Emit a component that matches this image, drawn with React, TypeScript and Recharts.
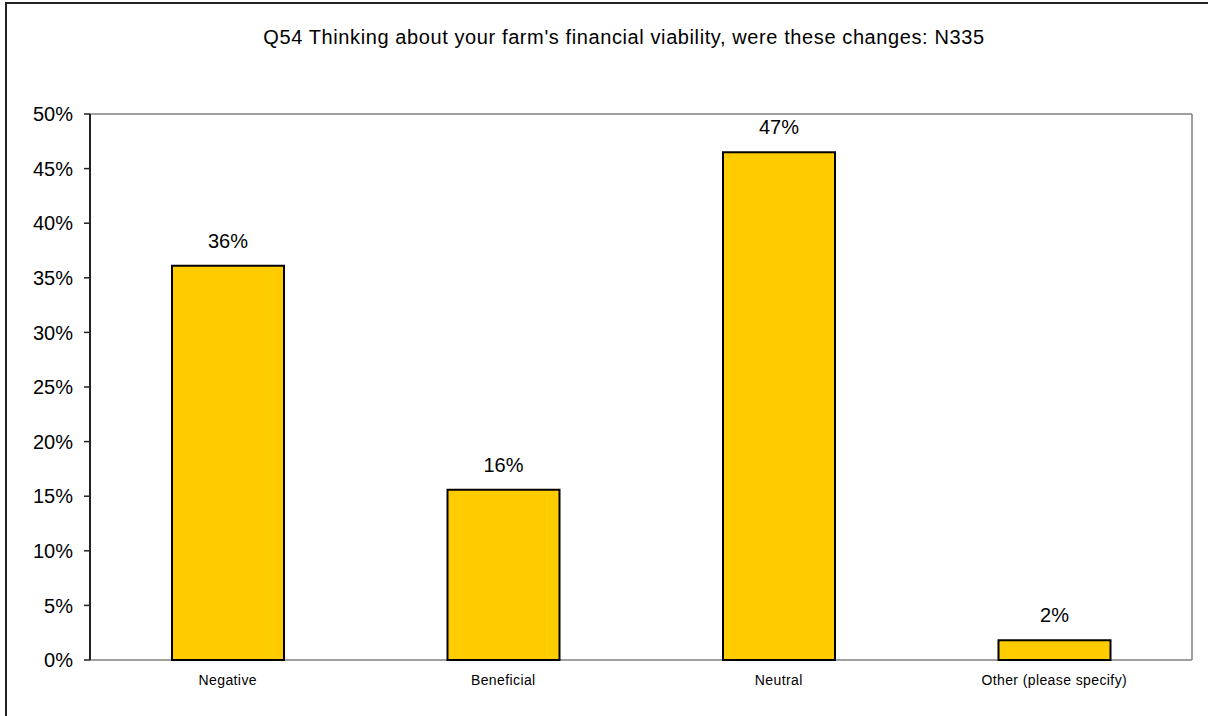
import { Bar, BarChart, CartesianGrid, LabelList, XAxis, YAxis } from "recharts";

const categories = ["Negative", "Beneficial", "Neutral", "Other (please specify)"];
const shares = [36.1, 15.6, 46.5, 1.8];
const yTicks = [0, 5, 10, 15, 20, 25, 30, 35, 40, 45, 50];
const boundaryTicks = [0, 1, 2, 3, 4];

const data = categories.map((name, i) => ({ name, value: shares[i] }));

const FONT = "'Liberation Sans', Arial, sans-serif";

export default function App() {
  return (
    <div
      style={{
        position: "absolute",
        left: 0,
        top: 0,
        width: 1208,
        height: 716,
        overflow: "hidden",
        background: "#fff",
        fontFamily: FONT,
      }}
    >
      <div
        style={{
          position: "absolute",
          left: 5,
          top: 2,
          width: 1240,
          height: 760,
          border: "2px solid #222",
        }}
      />
      <div
        style={{
          position: "absolute",
          left: 0,
          width: 1248,
          top: 26,
          textAlign: "center",
          fontSize: 20,
          letterSpacing: 0.6,
          color: "#000",
        }}
      >
        Q54 Thinking about your farm's financial viability, were these changes: N335
      </div>
      <div style={{ position: "absolute", left: 0, top: 0 }}>
        <BarChart
          width={1208}
          height={716}
          data={data}
          margin={{ top: 114, right: 16, bottom: 26, left: 10 }}
        >
          <CartesianGrid
            stroke="#808080"
            strokeWidth={1.5}
            verticalCoordinatesGenerator={({ offset }: any) => [offset.left + offset.width]}
          />
          <XAxis
            xAxisId="edges"
            type="number"
            domain={[0, 4]}
            ticks={boundaryTicks}
            height={0}
            tickFormatter={() => ""}
            axisLine={{ stroke: "#222", strokeWidth: 2 }}
            tickLine={{ stroke: "#222", strokeWidth: 2 }}
            tickSize={6}
          />
          <XAxis
            xAxisId="cat"
            dataKey="name"
            height={30}
            axisLine={false}
            tickLine={false}
            tickMargin={9}
            tick={{ fontSize: 14, fill: "#000", fontFamily: FONT, letterSpacing: 0.4 }}
          />
          <YAxis
            yAxisId="left"
            domain={[0, 50]}
            ticks={yTicks}
            width={80}
            tickFormatter={(v: number) => `${v}%`}
            axisLine={{ stroke: "#222", strokeWidth: 2 }}
            tickLine={{ stroke: "#222", strokeWidth: 1.5 }}
            tickSize={6}
            tickMargin={11}
            tick={{ fontSize: 20, fill: "#000", fontFamily: FONT }}
          />
          <Bar
            dataKey="value"
            xAxisId="cat"
            yAxisId="left"
            fill="#FFCC00"
            stroke="#000"
            strokeWidth={2}
            barSize={112}
            isAnimationActive={false}
          >
            <LabelList
              dataKey="value"
              position="top"
              offset={18}
              formatter={(v: number) => `${Math.round(v)}%`}
              style={{ fontSize: 20, fill: "#000", fontFamily: FONT }}
            />
          </Bar>
        </BarChart>
      </div>
    </div>
  );
}
